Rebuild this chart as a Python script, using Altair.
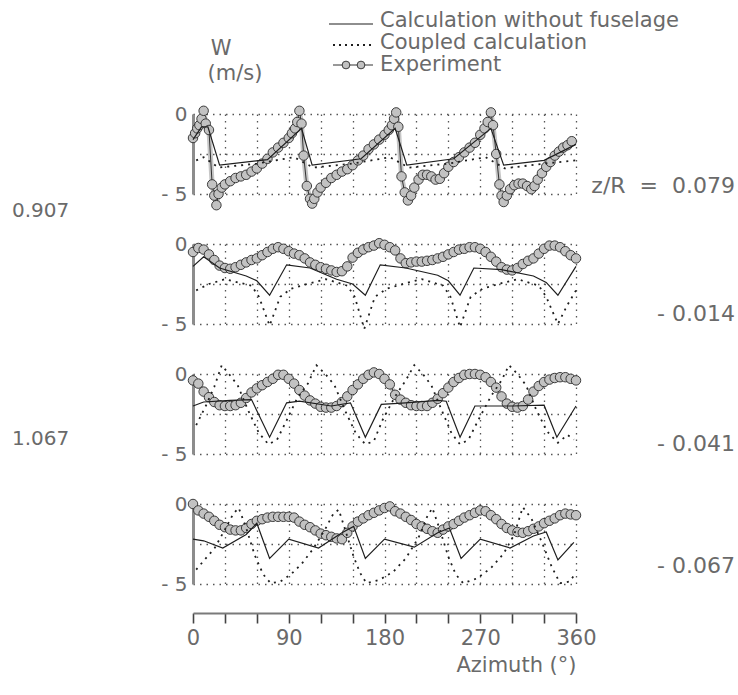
import altair as alt
import pandas as pd

FONT = "DejaVu Sans"
INK = "#1e1e1e"
TEXT_GRAY = "#6a6a6a"
GRID_GRAY = "#555555"

# Azimuth positions of the grid lines / axis ticks (deg)
GRID_AZ = [0, 30, 60, 90, 120, 150, 180, 210, 240, 270, 300, 330, 360]

# Azimuth sampling of the measured series in the three lower panels (deg)
AZ_5 = [0, 5, 10, 15, 20, 25, 30, 35, 40, 45, 50, 55, 60, 65, 70, 75, 80, 85,
        90, 95, 100, 105, 110, 115, 120, 125, 130, 135, 140, 145, 150, 155, 160,
        165, 170, 175, 180, 185, 190, 195, 200, 205, 210, 215, 220, 225, 230,
        235, 240, 245, 250, 255, 260, 265, 270, 275, 280, 285, 290, 295, 300,
        305, 310, 315, 320, 325, 330, 335, 340, 345, 350, 355, 360]

# ---------------- z/R = 0.079 ----------------
P1_EXP_AZ = [0, 2, 4, 6, 8, 10, 12, 15, 18, 20, 22, 24, 27, 30, 35, 40, 45, 50,
             55, 60, 65, 70, 75, 80, 85, 90, 93, 96, 98, 100, 102, 104, 107, 110,
             112, 114, 117, 120, 125, 130, 135, 140, 145, 150, 155, 160, 165, 170,
             175, 180, 184, 187, 189, 191, 193, 196, 199, 202, 205, 208, 212, 216,
             220, 224, 228, 232, 236, 240, 245, 250, 255, 260, 265, 270, 274, 277,
             280, 282, 285, 288, 290, 292, 295, 298, 302, 306, 310, 314, 318, 321,
             324, 328, 332, 336, 340, 344, 348, 352, 356]
P1_EXP_W = [-1.5, -1.2, -0.9, -0.7, -0.3, 0.2, -0.6, -1.0, -4.4, -5.1,
            -5.7, -5.0, -4.6, -4.4, -4.2, -4.0, -3.9, -3.8, -3.6, -3.4,
            -3.1, -2.8, -2.4, -2.1, -1.8, -1.5, -1.2, -0.9, -0.5, 0.2,
            -0.6, -2.6, -4.5, -5.3, -5.6, -5.3, -4.9, -4.6, -4.3, -4.0,
            -3.8, -3.6, -3.45, -3.2, -2.9, -2.6, -2.2, -1.9, -1.6, -1.3,
            -1.0, -0.7, -0.3, 0.1, -0.8, -3.9, -4.9, -5.4, -5.1, -4.6,
            -4.1, -3.8, -3.8, -3.9, -4.1, -4.05, -3.7, -3.3, -3.0, -2.7,
            -2.4, -2.1, -1.8, -1.3, -0.9, -0.5, 0.1, -0.7, -2.5, -4.4,
            -5.1, -5.5, -5.1, -4.7, -4.45, -4.35, -4.35, -4.5, -4.7, -4.5,
            -4.1, -3.7, -3.3, -3.0, -2.6, -2.35, -2.1, -1.95, -1.7]
P1_SOLID_AZ = [0, 8, 14, 25, 70, 102, 112, 158, 190, 201, 245, 280, 292, 330, 360]
P1_SOLID_W = [-1.6, -0.8, -0.8, -3.2, -2.85, -0.9, -3.2, -2.8, -0.9, -3.2, -2.8,
              -0.9, -3.2, -2.9, -1.9]
P1_COUP_AZ = [3, 10, 24, 60, 95, 113, 150, 185, 203, 240, 275, 293, 330, 360]
P1_COUP_W = [-2.9, -2.7, -3.35, -3.1, -2.7, -3.35, -3.1, -2.7, -3.35, -3.1, -2.7,
             -3.4, -3.1, -2.9]

# ---------------- z/R = -0.014 ----------------
P2_EXP_W = [-0.5, -0.25, -0.35, -0.65, -1.0, -1.35, -1.5, -1.55, -1.45, -1.3,
            -1.15, -1.0, -0.9, -0.7, -0.5, -0.3, -0.2, -0.3, -0.45, -0.6,
            -0.7, -0.9, -1.15, -1.3, -1.45, -1.55, -1.65, -1.75, -1.7, -1.4,
            -0.85, -0.55, -0.35, -0.2, -0.1, 0.05, -0.05, -0.2, -0.4, -0.9,
            -1.2, -1.15, -1.1, -1.1, -1.05, -1.0, -0.9, -0.8, -0.65, -0.5,
            -0.35, -0.3, -0.2, -0.2, -0.3, -0.5, -0.8, -1.1, -1.45, -1.6,
            -1.65, -1.5, -1.25, -1.05, -0.9, -0.6, -0.3, -0.1, -0.1, -0.2,
            -0.45, -0.7, -0.9]
P2_SOLID_AZ = [0, 10, 25, 50, 60, 72, 88, 110, 135, 150, 162, 176, 200, 230, 240,
               251, 264, 290, 320, 332, 343, 360]
P2_SOLID_W = [-1.4, -0.8, -1.5, -2.0, -2.3, -3.2, -1.3, -1.5, -2.2, -2.5, -3.2,
              -1.3, -1.5, -1.95, -2.3, -3.2, -1.5, -1.6, -2.0, -2.4, -3.2, -1.4]
P2_COUP_AZ = [3, 15, 30, 55, 62, 72, 82, 92, 110, 125, 145, 152, 161, 171, 182,
              200, 215, 235, 242, 251, 261, 272, 290, 305, 325, 332, 343, 352, 360]
P2_COUP_W = [-2.9, -2.5, -2.2, -2.6, -3.3, -5.1, -3.3, -2.8, -2.45, -2.2, -2.6,
             -3.3, -5.3, -3.3, -2.8, -2.45, -2.2, -2.6, -3.3, -5.2, -3.3, -2.8,
             -2.45, -2.2, -2.6, -3.3, -5.0, -3.8, -2.9]

# ---------------- z/R = -0.041 ----------------
P3_EXP_W = [-0.4, -0.6, -1.1, -1.45, -1.75, -1.95, -2.0, -2.0, -1.95, -1.8,
            -1.5, -1.15, -0.9, -0.7, -0.5, -0.3, -0.05, -0.05, -0.3, -0.6,
            -1.0, -1.35, -1.65, -1.85, -2.05, -2.1, -2.1, -2.0, -1.75, -1.4,
            -1.0, -0.65, -0.3, -0.05, 0.1, 0.0, -0.3, -0.65, -1.3, -1.6,
            -1.8, -1.95, -2.0, -2.0, -2.0, -1.8, -1.55, -1.2, -0.85, -0.5,
            -0.25, -0.05, 0.0, 0.0, -0.05, -0.2, -0.5, -0.85, -1.4, -1.85,
            -2.05, -2.1, -2.0, -1.6, -1.1, -0.75, -0.5, -0.35, -0.25, -0.2,
            -0.2, -0.3, -0.4]
P3_SOLID_AZ = [0, 10, 35, 55, 72, 88, 100, 130, 148, 162, 177, 200, 230, 238, 251,
               265, 300, 330, 342, 360]
P3_SOLID_W = [-2.0, -1.75, -1.65, -1.6, -3.95, -1.8, -1.7, -2.0, -1.8, -3.95,
              -1.9, -1.8, -1.65, -1.7, -3.95, -2.0, -2.0, -1.95, -3.95, -2.0]
P3_COUP_AZ = [3, 12, 20, 27, 35, 42, 52, 62, 71, 79, 88, 98, 108, 116, 125, 133,
              143, 153, 162, 170, 178, 190, 200, 208, 216, 224, 234, 243, 251, 259,
              268, 280, 290, 297, 305, 313, 323, 333, 343, 352, 358]
P3_COUP_W = [-3.2, -2.0, -0.8, 0.55, -0.1, -0.7, -2.3, -3.7, -4.4, -4.1, -2.9,
             -1.5, -0.6, 0.55, -0.05, -0.7, -2.3, -3.7, -4.4, -4.2, -2.9, -1.4,
             -0.4, 0.55, 0.0, -0.7, -2.3, -3.7, -4.4, -4.1, -2.9, -1.4, -0.4,
             0.55, 0.0, -0.7, -2.3, -3.6, -4.3, -3.8, -4.1]

# ---------------- z/R = -0.067 ----------------
P4_EXP_W = [0.0, -0.4, -0.6, -0.8, -1.05, -1.3, -1.45, -1.6, -1.65, -1.65,
            -1.5, -1.25, -1.05, -0.95, -0.85, -0.8, -0.8, -0.8, -0.8, -0.85,
            -1.1, -1.3, -1.45, -1.65, -1.85, -1.95, -2.05, -2.15, -2.2, -1.8,
            -1.4, -1.1, -0.9, -0.7, -0.55, -0.4, -0.25, -0.15, -0.45, -0.6,
            -0.8, -1.0, -1.25, -1.4, -1.55, -1.7, -1.8, -1.6, -1.4, -1.25,
            -1.05, -0.85, -0.7, -0.55, -0.4, -0.45, -0.7, -0.95, -1.25, -1.5,
            -1.65, -1.75, -1.8, -1.7, -1.55, -1.4, -1.2, -1.05, -0.9, -0.7,
            -0.6, -0.65, -0.7]
P4_SOLID_AZ = [0, 10, 28, 50, 60, 72, 90, 118, 140, 151, 162, 180, 208, 230, 241,
               252, 270, 298, 320, 332, 343, 358]
P4_SOLID_W = [-2.2, -2.3, -2.75, -1.9, -1.2, -3.4, -2.2, -2.75, -1.8, -1.4, -3.4,
              -2.2, -2.7, -1.8, -1.5, -3.4, -2.2, -2.75, -2.0, -1.75, -3.5, -2.4]
P4_COUP_AZ = [3, 12, 20, 30, 38, 43, 50, 58, 66, 73, 82, 92, 102, 113, 124, 132,
              137, 143, 151, 157, 163, 175, 188, 200, 212, 220, 225, 232, 240, 247,
              254, 267, 280, 292, 302, 310, 318, 328, 337, 345, 354, 360]
P4_COUP_W = [-4.1, -3.4, -2.8, -1.6, -0.6, -0.25, -1.5, -3.2, -4.4, -4.95, -4.85,
             -4.4, -3.75, -2.8, -1.6, -0.6, -0.35, -1.6, -3.3, -4.3, -4.95, -4.75,
             -4.25, -3.4, -2.1, -0.8, -0.25, -1.6, -3.3, -4.4, -4.95, -4.65, -4.0,
             -3.1, -1.9, -0.2, -0.9, -2.4, -3.9, -4.95, -4.85, -4.3]

# Station labels (non-breaking spaces keep the wide spacing round "=")
RIGHT_LABELS = ["z/R\u00a0\u00a0=\u00a0\u00a00.079", "- 0.014", "- 0.041", "- 0.067"]
LEFT_LABELS = ["0.907", None, "1.067", None]

# Legend entries
LEGEND_TEXT = ["Calculation without fuselage", "Coupled calculation", "Experiment"]

PANEL_W = 383
PANEL_H = 80

x_scale = alt.Scale(domain=[0, 360], nice=False, zero=False)
y_scale = alt.Scale(domain=[-5, 0], nice=False, zero=False)

dotted = dict(grid=True, gridDash=[1.5, 5], gridColor=GRID_GRAY, gridWidth=1.3,
              gridOpacity=1)

y_axis = alt.Axis(values=[0, -2.5, -5], **dotted, ticks=False, domain=True,
                  domainColor="#8c8c8c", domainWidth=3,
                  labelExpr="datum.value == 0 ? '0' : (datum.value == -5 ? '- 5' : '')",
                  labelFont=FONT, labelFontSize=20, labelColor=TEXT_GRAY,
                  labelPadding=6, title=None)

x_axis_plain = alt.Axis(values=GRID_AZ, **dotted, labels=False, ticks=False,
                        domain=False, title=None)

x_axis_bottom = alt.Axis(values=GRID_AZ, **dotted, labels=True, ticks=True,
                         tickSize=10, tickWidth=1.6, tickColor="#444444",
                         domain=True, domainColor="#7a7a7a", domainWidth=2,
                         offset=29, labelOverlap=False, labelFlush=False,
                         labelExpr="datum.value % 90 == 0 ? datum.label : ''",
                         labelFont=FONT, labelFontSize=21, labelColor=TEXT_GRAY,
                         labelPadding=4,
                         title="Azimuth (°)", titleFont=FONT, titleFontSize=21,
                         titleFontWeight="normal", titleColor=TEXT_GRAY,
                         titleAnchor="end", titlePadding=6)


def series(az, w):
    return pd.DataFrame({"az": az, "w": w})


def label_layer(text, x, y, align, size, color=TEXT_GRAY):
    return alt.Chart(pd.DataFrame({"t": [text]})).mark_text(
        align=align, baseline="middle", font=FONT, fontSize=size, color=color
    ).encode(x=alt.value(x), y=alt.value(y), text="t:N")


def make_panel(exp_az, exp_w, solid_az, solid_w, coup_az, coup_w,
               right_label, right_y, left_label=None, left_y=None,
               bottom=False, extra=()):
    x_enc = alt.X("az:Q", scale=x_scale,
                  axis=x_axis_bottom if bottom else x_axis_plain)
    y_enc = alt.Y("w:Q", scale=y_scale, axis=y_axis)

    exp_df = series(exp_az, exp_w)
    # measured points: grey band along the trace, thin connecting line, circles
    exp_band = alt.Chart(exp_df).mark_line(
        color="#c6c6c6", strokeWidth=5, strokeCap="round", strokeJoin="round"
    ).encode(x=x_enc, y=y_enc)
    exp_line = alt.Chart(exp_df).mark_line(color="#333333", strokeWidth=1).encode(
        x=x_enc, y=y_enc)
    exp_pts = alt.Chart(exp_df).mark_circle(
        size=90, fill="#c2c2c2", stroke="#2b2b2b", strokeWidth=0.9, opacity=1
    ).encode(x=x_enc, y=y_enc)
    solid = alt.Chart(series(solid_az, solid_w)).mark_line(
        color=INK, strokeWidth=1.2).encode(x=x_enc, y=y_enc)
    coupled = alt.Chart(series(coup_az, coup_w)).mark_line(
        color=INK, strokeWidth=1.8, strokeDash=[2, 5]).encode(x=x_enc, y=y_enc)

    layers = [exp_band, exp_line, exp_pts, solid, coupled,
              label_layer(right_label, 542, right_y, "right", 22)]
    if left_label:
        layers.append(label_layer(left_label, -181, left_y, "left", 20))
    layers.extend(extra)
    return alt.layer(*layers).properties(width=PANEL_W, height=PANEL_H)


# Legend and y title drawn above the first panel
legend_rows = [-93, -71, -49]
legend_parts = [
    alt.Chart(pd.DataFrame({"k": [0]})).mark_rule(color=INK, strokeWidth=1.2).encode(
        x=alt.value(136), x2=alt.value(180), y=alt.value(legend_rows[0] + 3)),
    alt.Chart(pd.DataFrame({"k": [0]})).mark_rule(
        color=INK, strokeWidth=1.8, strokeDash=[2, 4]).encode(
        x=alt.value(140), x2=alt.value(180), y=alt.value(legend_rows[1] + 2)),
    alt.Chart(pd.DataFrame({"k": [0]})).mark_rule(color="#333333", strokeWidth=1).encode(
        x=alt.value(140), x2=alt.value(180), y=alt.value(legend_rows[2])),
    alt.Chart(pd.DataFrame({"px": [153, 168]})).mark_circle(
        size=60, fill="#c2c2c2", stroke="#2b2b2b", strokeWidth=0.9, opacity=1).encode(
        x=alt.X("px:Q", scale=None), y=alt.value(legend_rows[2])),
]
for txt, yy in zip(LEGEND_TEXT, legend_rows):
    legend_parts.append(label_layer(txt, 187, yy, "left", 21))
legend_parts.append(label_layer("W", 28, -65, "center", 21))
legend_parts.append(label_layer("(m/s)", 42, -40, "center", 21))

p1 = make_panel(P1_EXP_AZ, P1_EXP_W, P1_SOLID_AZ, P1_SOLID_W, P1_COUP_AZ, P1_COUP_W,
                RIGHT_LABELS[0], 72, LEFT_LABELS[0], 97, extra=legend_parts)
p2 = make_panel(AZ_5, P2_EXP_W, P2_SOLID_AZ, P2_SOLID_W, P2_COUP_AZ, P2_COUP_W,
                RIGHT_LABELS[1], 70)
p3 = make_panel(AZ_5, P3_EXP_W, P3_SOLID_AZ, P3_SOLID_W, P3_COUP_AZ, P3_COUP_W,
                RIGHT_LABELS[2], 70, LEFT_LABELS[2], 65)
p4 = make_panel(AZ_5, P4_EXP_W, P4_SOLID_AZ, P4_SOLID_W, P4_COUP_AZ, P4_COUP_W,
                RIGHT_LABELS[3], 62, bottom=True)

chart = alt.vconcat(p1, p2, p3, p4, spacing=50, bounds="flush").properties(
    padding={"left": 12, "top": 10, "right": 0, "bottom": 4},
    background="white",
).configure_view(stroke=None)

chart.save("out.html", embed_options={"renderer": "svg", "actions": False})
